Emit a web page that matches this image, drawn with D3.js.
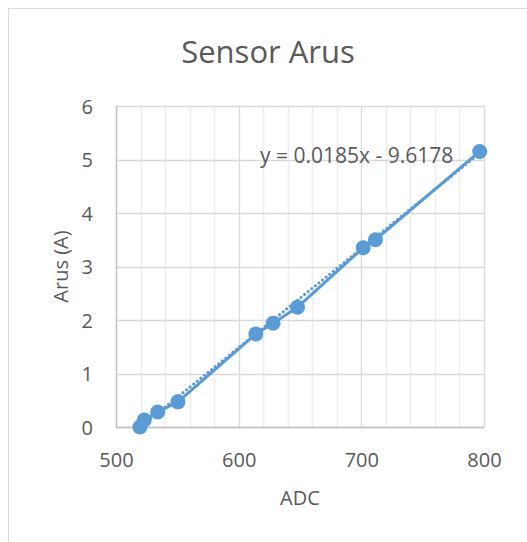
<!DOCTYPE html>
<html><head><meta charset="utf-8">
<script src="https://cdn.jsdelivr.net/npm/d3@7"></script>
<style>
html,body{margin:0;padding:0;background:#fff;}
svg text{font-family:"Open Sans",sans-serif;fill:#595959;}
</style></head>
<body><svg id="c" width="527" height="542"></svg>
<script>
const adc = [519.5, 523, 534, 550.5, 614, 628, 648, 701.5, 711.5, 796.5];
const arus = [0, 0.13, 0.28, 0.47, 1.74, 1.94, 2.24, 3.35, 3.5, 5.15];
const xTicks = [500, 600, 700, 800];
const yTicks = [0, 1, 2, 3, 4, 5, 6];
const slope = 0.0185, intercept = -9.6178;
const title = "Sensor Arus", xTitle = "ADC", yTitle = "Arus (A)";
const eqText = "y = 0.0185x - 9.6178";

const svg = d3.select("#c");
const color = "#5b9bd5";
const L = 116, R = 484, T = 106, B = 427;
const x = d3.scaleLinear().domain([500, 800]).range([L, R]);
const y = d3.scaleLinear().domain([0, 6]).range([B, T]);

// frame
svg.append("rect").attr("x", 8.5).attr("y", 8.5).attr("width", 560).attr("height", 560)
  .attr("fill", "#fff").attr("stroke", "#d9d9d9").attr("stroke-width", 1);

// minor vertical grid
const minor = d3.range(500, 801, 20).filter(v => v % 100 !== 0);
svg.append("g").selectAll("line").data(minor).join("line")
  .attr("x1", d => Math.round(x(d)) + 0.5).attr("x2", d => Math.round(x(d)) + 0.5)
  .attr("y1", T).attr("y2", B).attr("stroke", "#ececec").attr("stroke-width", 1.3);
// major vertical grid
svg.append("g").selectAll("line").data(xTicks).join("line")
  .attr("x1", d => Math.round(x(d)) + 0.5).attr("x2", d => Math.round(x(d)) + 0.5)
  .attr("y1", T).attr("y2", B).attr("stroke", "#d9d9d9").attr("stroke-width", 1.3);
// horizontal grid
svg.append("g").selectAll("line").data(yTicks).join("line")
  .attr("y1", d => Math.round(y(d)) + 0.5).attr("y2", d => Math.round(y(d)) + 0.5)
  .attr("x1", L).attr("x2", R).attr("stroke", "#d9d9d9").attr("stroke-width", 1.3);

// axes lines
svg.append("line").attr("x1", L + 0.5).attr("x2", L + 0.5).attr("y1", T).attr("y2", B + 0.5)
  .attr("stroke", "#bfbfbf").attr("stroke-width", 1.3);
svg.append("line").attr("x1", L).attr("x2", R).attr("y1", B + 0.5).attr("y2", B + 0.5)
  .attr("stroke", "#bfbfbf").attr("stroke-width", 1.3);

// tick labels via axes
const xAxis = svg.append("g").attr("transform", `translate(0,${B})`)
  .call(d3.axisBottom(x).tickValues(xTicks).tickFormat(d3.format("d")).tickSize(0).tickPadding(0));
xAxis.select(".domain").remove();
xAxis.selectAll("text").attr("font-size", 20).attr("dy", 0).attr("y", 40);

const yAxis = svg.append("g").attr("transform", `translate(${L},0)`)
  .call(d3.axisLeft(y).tickValues(yTicks).tickFormat(d3.format("d")).tickSize(0).tickPadding(0));
yAxis.select(".domain").remove();
yAxis.selectAll("text").attr("font-size", 20).attr("x", -23).attr("dy", "0.35em");

// titles
svg.append("text").attr("x", 268).attr("y", 63).attr("text-anchor", "middle")
  .attr("font-size", 31).text(title);
svg.append("text").attr("x", 300).attr("y", 505).attr("text-anchor", "middle")
  .attr("font-size", 20).text(xTitle);
svg.append("text").attr("transform", `translate(68,${(T + B) / 2}) rotate(-90)`)
  .attr("text-anchor", "middle").attr("font-size", 20).text(yTitle);

// trendline (dotted)
const xmin = d3.min(adc), xmax = d3.max(adc);
svg.append("line")
  .attr("x1", x(xmin)).attr("y1", y(slope * xmin + intercept))
  .attr("x2", x(xmax)).attr("y2", y(slope * xmax + intercept))
  .attr("stroke", color).attr("stroke-width", 3)
  .attr("stroke-dasharray", "0.1 4.5").attr("stroke-linecap", "round");

// series line
const pts = adc.map((d, i) => [d, arus[i]]);
svg.append("path").datum(pts)
  .attr("d", d3.line().x(d => x(d[0])).y(d => y(d[1])))
  .attr("fill", "none").attr("stroke", color).attr("stroke-width", 3).attr("stroke-linejoin", "round");
svg.append("g").selectAll("circle").data(pts).join("circle")
  .attr("cx", d => x(d[0])).attr("cy", d => y(d[1])).attr("r", 7.5).attr("fill", color);

// equation
svg.append("text").attr("x", 260).attr("y", 163).attr("font-size", 21).text(eqText);
</script></body></html>
